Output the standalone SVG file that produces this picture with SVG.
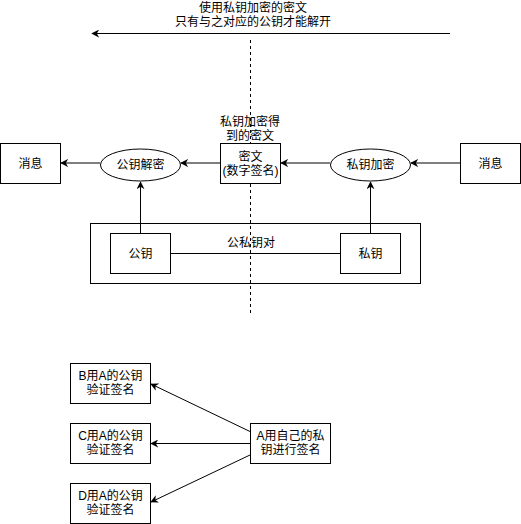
<svg xmlns="http://www.w3.org/2000/svg" width="521" height="524" viewBox="0 0 521 524">
<style>
text{font-family:"Liberation Sans","Noto Sans CJK SC",sans-serif;font-size:12px;fill:#000;text-anchor:middle;dominant-baseline:central}
.n{fill:#fff;stroke:#000;stroke-width:1}
.g{fill:none;stroke:#000;stroke-width:1}
.c{fill:none;stroke:#000;stroke-width:1}
</style>
<defs>
<marker id="a" viewBox="0 0 10 10" refX="9" refY="5" markerWidth="8" markerHeight="8" markerUnits="userSpaceOnUse" orient="auto">
<path d="M0,0 L10,5 L0,10 L3,5 Z" fill="#000"/>
</marker>
</defs>
<g id="top-label">
<text x="253" y="8">使用私钥加密的密文</text>
<text x="253" y="22">只有与之对应的公钥才能解开</text>
</g>
<g id="divider">
<line x1="250.5" y1="40" x2="250.5" y2="313" stroke="#000" stroke-dasharray="3 3"/>
</g>
<g id="connectors">
<line class="c" x1="450" y1="33.5" x2="92" y2="33.5" marker-end="url(#a)"/>
<line class="c" x1="100" y1="163" x2="61" y2="163" marker-end="url(#a)"/>
<line class="c" x1="220" y1="163" x2="181" y2="163" marker-end="url(#a)"/>
<line class="c" x1="330" y1="163" x2="281" y2="163" marker-end="url(#a)"/>
<line class="c" x1="460" y1="163" x2="411" y2="163" marker-end="url(#a)"/>
<line class="c" x1="140.5" y1="233" x2="140.5" y2="182" marker-end="url(#a)"/>
<line class="c" x1="370.5" y1="233" x2="370.5" y2="182" marker-end="url(#a)"/>
<line class="c" x1="250" y1="431.5" x2="151" y2="384" marker-end="url(#a)"/>
<line class="c" x1="250" y1="443.5" x2="151" y2="443.5" marker-end="url(#a)"/>
<line class="c" x1="250" y1="455" x2="151" y2="502" marker-end="url(#a)"/>
</g>
<g id="msg-left"><rect class="n" x="0.5" y="143.5" width="60" height="40"/><text x="30.5" y="163.5">消息</text></g>
<g id="pub-decrypt"><ellipse class="n" cx="140.5" cy="165" rx="40" ry="16"/><text x="140.5" y="165">公钥解密</text></g>
<g id="cipher-label"><text x="250" y="122">私钥加密得</text><text x="250" y="136">到的密文</text></g>
<g id="cipher"><rect class="n" x="220.5" y="143.5" width="60" height="40"/><text x="250.5" y="157">密文</text><text x="250.5" y="171">(数字签名)</text></g>
<g id="priv-encrypt"><ellipse class="n" cx="370.5" cy="165" rx="40" ry="16"/><text x="370.5" y="165">私钥加密</text></g>
<g id="msg-right"><rect class="n" x="460.5" y="143.5" width="60" height="40"/><text x="490.5" y="163.5">消息</text></g>
<g id="keypair"><rect class="g" x="90.5" y="223.5" width="330" height="60"/></g>
<g id="keypair-link"><line class="c" x1="170" y1="253.5" x2="340" y2="253.5"/><text x="251" y="243">公私钥对</text></g>
<g id="pubkey"><rect class="n" x="110.5" y="233.5" width="60" height="40"/><text x="140.5" y="253.5">公钥</text></g>
<g id="privkey"><rect class="n" x="340.5" y="233.5" width="60" height="40"/><text x="370.5" y="253.5">私钥</text></g>
<g id="B"><rect class="n" x="70.5" y="363.5" width="80" height="40"/><text x="110.5" y="376">B用A的公钥</text><text x="110.5" y="390">验证签名</text></g>
<g id="C"><rect class="n" x="70.5" y="423.5" width="80" height="40"/><text x="110.5" y="436">C用A的公钥</text><text x="110.5" y="450">验证签名</text></g>
<g id="D"><rect class="n" x="70.5" y="483.5" width="80" height="40"/><text x="110.5" y="496">D用A的公钥</text><text x="110.5" y="510">验证签名</text></g>
<g id="A"><rect class="n" x="250.5" y="423.5" width="80" height="40"/><text x="290.5" y="436">A用自己的私</text><text x="290.5" y="450">钥进行签名</text></g>
</svg>
